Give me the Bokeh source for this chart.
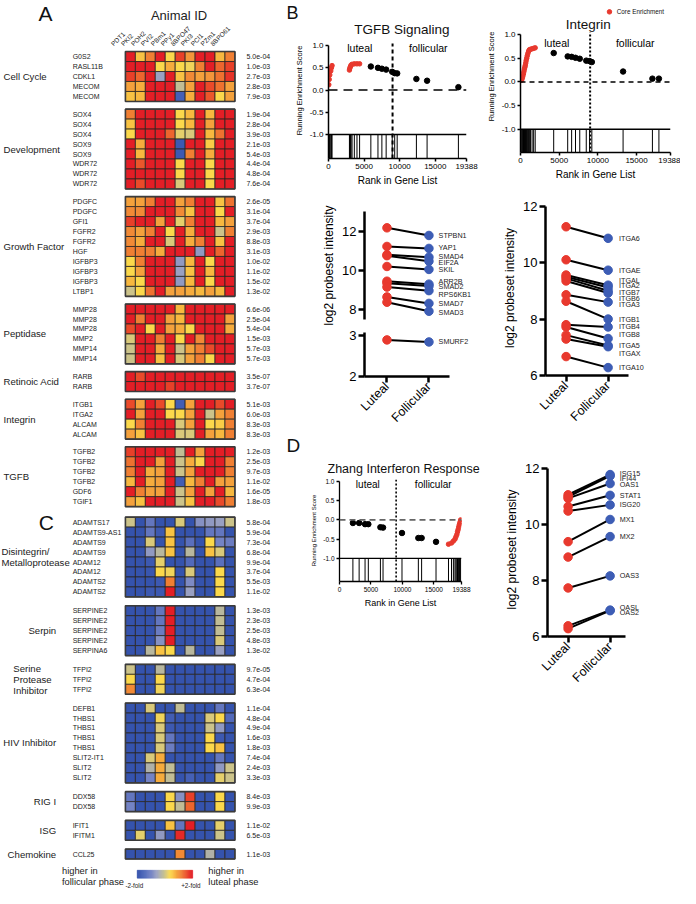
import numpy as np
from math import pi
from bokeh.plotting import figure
from bokeh.models import (Range1d, FixedTicker, PrintfTickFormatter, Span, Label, Title,
                          LinearColorMapper, ColumnDataSource, Spacer)
from bokeh.layouts import row, column
from bokeh.core.properties import value
from bokeh.transform import transform
from bokeh.embed import file_html
from bokeh.resources import INLINE

FONT = "Liberation Sans"

# ====================== DATA: heatmaps (A and C) ======================
animal_ids = ["PDT1", "PKI2", "POH2", "PVI2", "PBm1", "PPy1", "8BPO47", "PKI3", "PCI1", "PZm1", "8BPO61"]

cc_genes = ["G0S2", "RASL11B", "CDKL1", "MECOM", "MECOM"]
cc_p = ["5.0e-04", "1.0e-03", "2.7e-03", "2.8e-03", "7.9e-03"]
cc_vals = [
    [1, 0.3, 0.6, 1, 0.2, 0.85, 0.5, 1, 1, 0.35, 0.6],
    [1, 1, 1, 0.2, 0.4, 0.2, 0.15, 0.6, 1, 0.7, 0.85],
    [0.85, 0.7, 1, -0.3, 1, 0.3, 0.55, 0.45, 0.5, 0.65, 0.9],
    [0.45, 0.4, 1, 1, 1, -0.05, 0.45, 1, 0.8, 0.65, 0.45],
    [0.3, 0.35, 1, 1, 1, -0.8, 0.4, 1, 0.75, 0.2, 0.45],
]
dev_genes = ["SOX4", "SOX4", "SOX4", "SOX9", "SOX9", "WDR72", "WDR72", "WDR72"]
dev_p = ["1.9e-04", "2.8e-04", "3.9e-03", "2.1e-03", "5.4e-03", "4.4e-04", "4.8e-04", "7.6e-04"]
dev_vals = [
    [0.6, 1, 1, 1, 1, 0.2, 0.35, 1, 0.35, 1, 1],
    [0.3, 1, 1, 1, 1, 0.2, 0.35, 1, 0.45, 1, 1],
    [0.2, 1, 1, 1, 0.7, 0.1, 0.05, 1, 0.35, 0.65, 1],
    [1, 0.4, 1, 1, 1, -0.9, 1, 1, 0.25, 1, 1],
    [1, 0.35, 1, 1, 1, -0.9, 0.6, 1, 0.4, 1, 1],
    [1, 0.75, 1, 1, 1, 0.2, 1, 1, 0.2, 1, 1],
    [1, 1, 1, 1, 1, 0.2, 1, 1, 0.2, 1, 1],
    [1, 0.8, 1, 1, 1, 0.05, 1, 1, 0.2, 1, 1],
]
gf_genes = ["PDGFC", "PDGFC", "GFI1", "FGFR2", "FGFR2", "HGF", "IGFBP3", "IGFBP3", "IGFBP3", "LTBP1"]
gf_p = ["2.6e-05", "3.1e-04", "3.7e-04", "2.9e-03", "8.8e-03", "3.1e-03", "1.0e-02", "1.1e-02", "1.5e-02", "1.3e-02"]
gf_vals = [
    [0.45, 0.45, 0.6, 1, 1, 0.45, 0.6, 1, 1, 0.3, 0.65],
    [0.55, 0.55, 1, 1, 1, 0.55, 0.3, 1, 1, 0.2, 1],
    [0.85, 1, 1, 0.45, 1, 0.1, 0.6, 1, 1, 0.35, 0.45],
    [0.55, 0.45, 0.6, 1, 0.2, 1, 0.4, 1, 1, 0.0, 0.6],
    [0.55, 0.4, 1, 1, 0.05, 1, 0.4, 0.6, 1, 0.3, 1],
    [0.6, 0.6, 0.6, 0.4, 1, 1, 1, -0.35, 1, 0.7, 1],
    [0.2, 0.6, 1, 1, 1, -0.35, 0.35, 1, 0.2, 1, 1],
    [0.2, 0.45, 1, 1, 1, -0.3, 0.3, 1, 0.35, 1, 1],
    [0.35, 0.2, 1, 1, 1, -0.35, 0.35, 1, 0.2, 1, 1],
    [0.0, 0.2, 0.65, 1, 0.45, 0.45, 0.4, 0.35, 0.45, 0.35, 1],
]
pep_genes = ["MMP28", "MMP28", "MMP28", "MMP2", "MMP14", "MMP14"]
pep_p = ["6.6e-06", "2.5e-04", "5.4e-04", "1.5e-03", "5.7e-03", "5.7e-03"]
pep_vals = [
    [1, 1, 1, 1, 1, 0.35, 1, 1, 1, 1, 1],
    [1, 0.6, 1, 1, 0.45, 0.35, 1, 1, 1, 1, 0.45],
    [0.8, 1, 0.2, 1, 0.45, 0.4, 0.2, 1, 1, 1, 0.4],
    [0.05, 1, 1, 0.6, 1, 0.2, 1, 0.55, 1, 1, 1],
    [0.0, 1, 1, 0.4, 1, 0.0, 0.45, 0.6, 0.8, 1, 1],
    [0.0, 1, 1, 0.3, 1, 0.05, 0.45, 0.6, 0.2, 1, 1],
]
ra_genes = ["RARB", "RARB"]
ra_p = ["3.5e-07", "3.7e-07"]
ra_vals = [
    [1, 0.8, 1, 1, 1, 1, 1, 1, 1, 1, 1],
    [1, 1, 1, 1, 0.85, 1, 1, 1, 1, 1, 1],
]
itg_genes = ["ITGB1", "ITGA2", "ALCAM", "ALCAM"]
itg_p = ["5.1e-03", "6.0e-03", "8.3e-03", "8.3e-03"]
itg_vals = [
    [0.8, 0.45, 1, 0.8, 0.2, -0.85, 0.45, 1, 1, 0.8, 1],
    [1, 0.45, 1, 1, 0.2, 0.2, 0.45, 1, 0.0, 0.45, 0.6],
    [0.2, 0.6, 1, 1, 1, 0.05, 0.45, 1, 0.2, 0.25, 0.6],
    [0.45, 0.3, 1, 1, 1, 0.05, 0.05, 1, 0.45, 0.35, 0.6],
]
tg_genes = ["TGFB2", "TGFB2", "TGFB2", "TGFB2", "GDF6", "TGIF1"]
tg_p = ["1.2e-03", "2.5e-03", "9.7e-03", "1.1e-02", "1.6e-05", "1.8e-03"]
tg_vals = [
    [0.85, 1, 1, 1, 1, -0.05, 1, 0.45, 1, 1, 1],
    [0.65, 1, 1, 0.45, 1, 0.0, 0.4, 0.2, 1, 1, 0.6],
    [0.6, 1, 0.4, 0.45, 1, 0.0, 0.45, 1, 1, 1, 0.6],
    [0.35, 1, 0.4, 0.45, 1, -0.85, 0.35, 0.6, 1, 0.45, 0.45],
    [1, 0.6, 0.45, 0.45, 1, 0.0, 0.45, 1, 0.45, 1, 0.35],
    [0.45, 0.3, 1, 1, 1, 0.0, 0.3, 1, 1, 0.8, 0.6],
]
dis_genes = ["ADAMTS17", "ADAMTS9-AS1", "ADAMTS9", "ADAMTS9", "ADAM12", "ADAM12", "ADAMTS2", "ADAMTS2"]
dis_p = ["5.8e-04", "5.9e-04", "7.3e-04", "6.8e-04", "9.9e-04", "3.7e-04", "5.5e-03", "1.1e-02"]
dis_vals = [
    [0.0, -1, -0.6, -1, -1, 0.05, -1, -0.4, -0.35, -0.3, 0.0],
    [-1, -1, -0.6, -0.9, 0.3, -1, -1, -1, -0.6, -0.6, -1],
    [-1, -1, 0.05, -1, 0.3, -1, -0.65, -1, 0.2, -0.5, -0.55],
    [-1, -1, -0.35, -0.1, 0.3, -1, -0.1, -1, 0.3, 0.05, -1],
    [-1, -1, -0.9, 0.1, -1, -1, -0.7, -1, -1, -0.65, -1],
    [-1, -1, -0.95, 0.2, 0.15, -1, 0.05, -1, -1, 0.2, -1],
    [-1, -1, -1, -0.9, 0.6, -1, -0.45, -1, -1, 0.2, -1],
    [-1, -1, -0.9, -0.9, 1, -1, -0.3, -1, -1, 0.2, -1],
]
ser_genes = ["SERPINE2", "SERPINE2", "SERPINE2", "SERPINE2", "SERPINA6"]
ser_p = ["1.3e-03", "2.3e-03", "2.5e-03", "4.8e-03", "1.3e-02"]
ser_vals = [
    [-1, -1, -1, -0.6, 1, -1, -1, -1, -1, -0.1, -1],
    [-1, -1, -1, -0.6, 1, -1, -1, -1, -1, -0.05, -1],
    [-1, -1, -1, -0.55, 1, -1, -1, -1, -1, -0.05, -1],
    [-1, -1, -1, -0.4, 1, -1, -1, -1, -1, 0.05, -1],
    [-1, -1, -0.1, 0.3, 0.2, -1, -0.1, -1, -1, -0.3, -1],
]
spi_genes = ["TFPI2", "TFPI2", "TFPI2"]
spi_p = ["9.7e-05", "4.7e-04", "6.3e-04"]
spi_vals = [
    [0.0, -1, -1, -0.1, -1, -1, -1, -1, -1, -1, -1],
    [0.2, -1, -1, 0.2, -1, -1, -1, -1, -1, -1, -1],
    [0.55, -1, -1, 0.15, -1, -1, -1, -1, -1, -1, -1],
]
hiv_genes = ["DEFB1", "THBS1", "THBS1", "THBS1", "THBS1", "SLIT2-IT1", "SLIT2", "SLIT2"]
hiv_p = ["1.1e-04", "4.8e-04", "4.9e-04", "1.6e-03", "1.8e-03", "7.4e-04", "2.4e-03", "3.3e-03"]
hiv_vals = [
    [-1, -1, 0.05, -1, -1, -0.05, -1, -1, -1, -0.6, -1],
    [-1, -1, -1, 0.15, -0.85, -1, -1, -1, 0.05, 0.2, -0.7],
    [-1, -1, -1, 0.05, -0.9, -1, -1, -1, 0.0, -0.35, -1],
    [-1, -1, -1, 0.05, -0.6, -1, -1, -1, 0.2, -0.9, -1],
    [-1, -1, -1, 0.05, -0.55, -1, -1, -1, 0.2, 0.3, -1],
    [-1, -1, 0.05, 0.4, -1, -1, -1, -1, -1, -0.6, -1],
    [-1, -1, -0.15, 0.4, -0.05, -1, -1, -1, -1, -0.35, 0.0],
    [-1, -1, -0.5, 0.4, -0.05, -1, -0.8, -1, -1, 0.1, 0.0],
]
rig_genes = ["DDX58", "DDX58"]
rig_p = ["8.4e-03", "9.9e-03"]
rig_vals = [
    [-0.6, -1, -1, -1, 0.2, -0.4, 0.85, -1, -1, 0.2, -1],
    [-0.5, -1, -1, -1, 0.2, -0.05, 0.7, -1, -1, 0.2, -1],
]
isg_genes = ["IFIT1", "IFITM1"]
isg_p = ["1.1e-02", "6.5e-03"]
isg_vals = [
    [-1, -1, -1, -1, 0.3, -0.6, 1, -1, -1, 0.1, -1],
    [-1, 0.1, -1, -0.35, -1, 0.95, -1, -1, -1, 0.0, -1],
]
chem_genes = ["CCL25"]
chem_p = ["1.1e-03"]
chem_vals = [
    [-1, -1, -1, -1, -1, 0.55, -1, -1, -0.15, -1, -1],
]

groups_A = [
    (["Cell Cycle"], cc_genes, cc_p, cc_vals),
    (["Development"], dev_genes, dev_p, dev_vals),
    (["Growth Factor"], gf_genes, gf_p, gf_vals),
    (["Peptidase"], pep_genes, pep_p, pep_vals),
    (["Retinoic Acid"], ra_genes, ra_p, ra_vals),
    (["Integrin"], itg_genes, itg_p, itg_vals),
    (["TGFB"], tg_genes, tg_p, tg_vals),
]
groups_C = [
    (["Disintegrin/", "Metalloprotease"], dis_genes, dis_p, dis_vals),
    (["Serpin"], ser_genes, ser_p, ser_vals),
    (["Serine", "Protease", "Inhibitor"], spi_genes, spi_p, spi_vals),
    (["HIV Inhibitor"], hiv_genes, hiv_p, hiv_vals),
    (["RIG I"], rig_genes, rig_p, rig_vals),
    (["ISG"], isg_genes, isg_p, isg_vals),
    (["Chemokine"], chem_genes, chem_p, chem_vals),
]

# ====================== DATA: GSEA running enrichment ======================
n_genes = 19388
phase_split = 9000
tgfb_rank = [40, 100, 180, 320, 410, 500, 2940, 2990, 3080, 3170, 3310, 3630, 4000, 4370,
             5950, 6950, 7500, 8100, 8950, 9300, 9650, 12350, 13850, 18250]
tgfb_es = [0.12, 0.24, 0.34, 0.43, 0.5, 0.55, 0.45, 0.49, 0.53, 0.56, 0.58, 0.59, 0.59, 0.59,
           0.53, 0.5, 0.48, 0.46, 0.41, 0.38, 0.375, 0.25, 0.21, 0.065]
tgfb_core = [1] * 14 + [0] * 10

integ_rank = [150, 230, 300, 380, 440, 500, 560, 620, 680, 730, 800, 870, 950, 1050, 1150, 1300,
              1500, 1700, 1900, 4290, 6100, 6610, 7110, 7660, 8500, 8925, 9220, 13260, 17050, 17890]
integ_es = [0.04, 0.08, 0.12, 0.17, 0.22, 0.27, 0.31, 0.35, 0.4, 0.45, 0.5, 0.55, 0.6, 0.65, 0.68,
            0.69, 0.7, 0.71, 0.72, 0.61, 0.54, 0.53, 0.51, 0.49, 0.45, 0.44, 0.42, 0.22, 0.07, 0.07]
integ_core = [1] * 19 + [0] * 11

zhang_rank = [2130, 3120, 4060, 4580, 6500, 6920, 9930, 12530, 13050, 15340,
              17320, 17800, 18100, 18350, 18500, 18650, 18750, 18850, 18950, 19050, 19150, 19250]
zhang_es = [-0.08, -0.08, -0.11, -0.11, -0.19, -0.2, -0.34, -0.47, -0.47, -0.57,
            -0.63, -0.6, -0.55, -0.5, -0.44, -0.38, -0.31, -0.25, -0.18, -0.12, -0.06, 0.0]
zhang_core = [0] * 10 + [1] * 12

# ====================== DATA: log2 probeset intensity ======================
phases = ["Luteal", "Follicular"]
tgfb_genes = ["STPBN1", "YAP1", "SMAD4", "EIF2A", "SKIL", "ARR2B", "SMAD2", "RPS6KB1", "SMAD7", "SMAD3"]
tgfb_lut = [12.17, 11.22, 10.8, 10.75, 10.2, 9.45, 9.35, 9.15, 8.65, 8.38]
tgfb_fol = [11.78, 11.12, 10.67, 10.47, 10.05, 9.3, 9.2, 8.97, 8.32, 7.92]
tgfb_lab = [11.78, 11.17, 10.72, 10.38, 10.03, 9.45, 9.2, 8.78, 8.32, 7.88]
tgfb_low_genes = ["SMURF2"]
tgfb_low_lut = [2.89]
tgfb_low_fol = [2.84]

integ_genes = ["ITGA6", "ITGAE", "ITGAL", "ITGA2", "ITGB7", "ITGB6", "ITGA3", "ITGB1", "ITGB4",
               "ITGB8", "ITGA5", "ITGAX", "ITGA10"]
integ_lut = [11.27, 10.1, 9.56, 9.5, 9.44, 9.35, 8.86, 8.63, 7.8, 7.72, 7.43, 7.29, 6.67]
integ_fol = [10.86, 9.73, 9.2, 9.12, 9.0, 8.92, 8.6, 8.0, 7.72, 7.31, 7.06, 7.02, 6.28]
integ_lab = [10.86, 9.73, 9.35, 9.19, 8.95, 8.74, 8.53, 7.99, 7.73, 7.44, 7.06, 6.77, 6.28]

ifn_genes = ["ISG15", "IFI44", "OAS1", "STAT1", "ISG20", "MX1", "MX2", "OAS3", "OASL", "OAS2"]
ifn_lut = [11.05, 10.98, 10.92, 10.63, 10.47, 9.38, 8.83, 7.73, 6.38, 6.28]
ifn_fol = [11.77, 11.72, 11.45, 11.03, 10.69, 10.17, 9.56, 8.16, 6.94, 6.92]
ifn_lab = [11.8, 11.62, 11.4, 11.03, 10.69, 10.17, 9.58, 8.16, 7.02, 6.84]

# ====================== colour scale ======================
anchors = [(-1.0, "#3553ad"), (-0.75, "#4a63b8"), (-0.5, "#7483c4"), (-0.3, "#99a0c2"),
           (-0.1, "#b8b79e"), (0.0, "#cbc38b"), (0.1, "#e6cf6a"), (0.2, "#fbd84b"),
           (0.35, "#f7b83f"), (0.5, "#f3963a"), (0.65, "#ee7330"), (0.8, "#ea4b2a"), (1.0, "#e31e26")]


def hex2rgb(h):
    return np.array([int(h[i:i + 2], 16) for i in (1, 3, 5)], dtype=float)


def build_palette(anc, n=256):
    pos = np.array([a[0] for a in anc])
    cols = np.array([hex2rgb(a[1]) for a in anc])
    out = []
    for t in np.linspace(pos[0], pos[-1], n):
        rgb = [np.interp(t, pos, cols[:, k]) for k in range(3)]
        out.append("#%02x%02x%02x" % tuple(int(round(c)) for c in rgb))
    return out


palette = build_palette(anchors)
mapper = LinearColorMapper(palette=palette, low=-1, high=1)

# ====================== heatmap figure ======================
GAP_A, GAP_AC, GAP_C = 0.77, 1.05, 0.88
n_anim = len(animal_ids)
cx, cy, cv = [], [], []
gx_y, gx_t, px_t = [], [], []
box_top, box_bot = [], []
lab_rows = []
y = 0.0
for panel, groups, gap in (("A", groups_A, GAP_A), ("C", groups_C, GAP_C)):
    for lines, genes, pv, vals in groups:
        top = y
        for r, (g, p_, rowv) in enumerate(zip(genes, pv, vals)):
            for c, v in enumerate(rowv):
                cx.append(c + 0.5)
                cy.append(top + r + 0.5)
                cv.append(v)
            gx_y.append(top + r + 0.5)
            gx_t.append(g)
            px_t.append(p_)
        box_top.append(top)
        box_bot.append(top + len(genes))
        lab_rows.append((panel, lines, top + len(genes) / 2.0))
        y = top + len(genes) + gap
    y = y - gap + GAP_AC

heat = figure(width=283, height=888, x_range=Range1d(-12.55, 15.88), y_range=Range1d(83.9, -5.12),
              output_backend="svg", toolbar_location=None, x_axis_location=None, y_axis_location=None,
              min_border=0, outline_line_color=None, frame_align=False)
heat.grid.visible = False
src = ColumnDataSource(dict(x=cx, y=cy, v=cv))
heat.rect(x="x", y="y", width=1, height=1, source=src, fill_color=transform("v", mapper),
          line_color="#2a2622", line_width=0.8)
heat.quad(left=[0] * len(box_top), right=[n_anim] * len(box_top), top=box_top, bottom=box_bot,
          fill_color=None, line_color="#3b3b3b", line_width=1.6)
heat.text(x=[-5.3] * len(gx_t), y=gx_y, text=gx_t, text_font=value(FONT), text_font_size="7px",
          text_baseline="middle", text_align="left", text_color="#222222")
heat.text(x=[12.16] * len(px_t), y=gx_y, text=px_t, text_font=value(FONT), text_font_size="7px",
          text_baseline="middle", text_align="left", text_color="#222222")

c_anchor = [(-12.45, "left"), (-6.96, "right"), (-11.27, "left"), (-6.96, "right"),
            (-6.96, "right"), (-6.96, "right"), (-6.96, "right")]
glx, gly, glt, gla = [], [], [], []
ci = 0
for panel, lines, centre in lab_rows:
    if panel == "A":
        ax_, al = -12.25, "left"
    else:
        ax_, al = c_anchor[ci]
        ci += 1
    n = len(lines)
    for k, ln in enumerate(lines):
        glx.append(ax_)
        gly.append(centre + (k - (n - 1) / 2.0) * 1.1)
        glt.append(ln)
        gla.append(al)
heat.text(x=glx, y=gly, text=glt, text_align=gla, text_baseline="middle", text_font=value(FONT),
          text_font_size="9.6px", text_color="#222222")

heat.text(x=[i - 1.35 for i in range(n_anim)], y=[-0.69] * n_anim, text=animal_ids, angle=pi / 4,
          text_align="left", text_baseline="middle", text_font=value(FONT), text_font_size="6.5px",
          text_color="#222222")
heat.text(x=[5.39], y=[-3.65], text=["Animal ID"], text_align="center", text_baseline="middle",
          text_font=value(FONT), text_font_size="13px", text_color="#222222")
heat.text(x=[-8.04, -7.94], y=[-3.84, 47.2], text=["A", "C"], text_align="center", text_baseline="middle",
          text_font=value(FONT), text_font_size="21px", text_color="#111111")

cb_n = 60
edges = np.linspace(1.18, 6.76, cb_n + 1)
cb_cols = [palette[int(round(i / (cb_n - 1) * (len(palette) - 1)))] for i in range(cb_n)]
heat.quad(left=edges[:-1], right=edges[1:], top=[82.07] * cb_n, bottom=[82.86] * cb_n,
          fill_color=cb_cols, line_color=cb_cols, line_width=0.5)
heat.text(x=[0.0, 5.6], y=[83.55, 83.55], text=["-2-fold", "+2-fold"], text_font=value(FONT),
          text_font_size="6.3px", text_baseline="middle", text_align="left", text_color="#222222")
heat.text(x=[-6.37, -6.37, 8.33, 8.33], y=[82.1, 83.25, 82.1, 83.25],
          text=["higher in", "follicular phase", "higher in", "luteal phase"], text_font=value(FONT),
          text_font_size="9.3px", text_baseline="middle", text_align="left", text_color="#222222")


# ====================== helpers ======================
def style_axis(ax, lw, tick, fs, lab_fs=None):
    ax.axis_line_width = lw
    ax.axis_line_color = "black"
    ax.major_tick_line_width = lw
    ax.major_tick_line_color = "black"
    ax.major_tick_out = tick
    ax.major_tick_in = 0
    ax.minor_tick_line_color = None
    ax.major_label_text_font = FONT
    ax.major_label_text_font_size = fs
    ax.major_label_text_color = "black"
    ax.major_label_standoff = 2
    ax.axis_label_text_font = FONT
    ax.axis_label_text_font_style = "normal"
    ax.axis_label_text_color = "black"
    if lab_fs:
        ax.axis_label_text_font_size = lab_fs
    ax.axis_label_standoff = 3


def add_label(p, x, y, text, fs, align="center"):
    p.add_layout(Label(x=x, y=y, text=text, text_font=FONT, text_font_size=fs, text_align=align,
                       text_baseline="middle", text_color="black"))


def add_title(p, text, offset, fs, standoff=0, lh=1.0):
    p.add_layout(Title(text=text, align="left", offset=offset, text_font=FONT, text_font_size=fs,
                       text_font_style="normal", text_color="#111111", standoff=standoff,
                       text_line_height=lh), "above")


def gsea_fig(rank, es, core, w, h, ml, mr, mt, mb, ylo, ytop, zdash, zcol, vdash, vw,
             tick_fs, xlab_fs, ylab_fs, lw, red_size, blk_size):
    p = figure(width=w, height=h, x_range=Range1d(0, n_genes), y_range=Range1d(ylo, ytop),
               output_backend="svg", toolbar_location=None, min_border_left=ml, min_border_right=mr,
               min_border_top=mt, min_border_bottom=mb, outline_line_color=None, frame_align=False)
    p.grid.visible = False
    n = len(rank)
    p.segment(x0=rank, y0=[-1.0] * n, x1=rank, y1=[ylo] * n, line_color="black", line_width=1)
    p.add_layout(Span(location=-1.0, dimension="width", line_color="black", line_width=lw))
    p.add_layout(Span(location=0.0, dimension="width", line_color=zcol, line_width=1.6, line_dash=zdash))
    p.segment(x0=[phase_split], y0=[ylo], x1=[phase_split], y1=[1.05], line_color="black", line_width=vw,
              line_dash=vdash)
    cr = [r for r, c in zip(rank, core) if c]
    ce = [e for e, c in zip(es, core) if c]
    br = [r for r, c in zip(rank, core) if not c]
    be = [e for e, c in zip(es, core) if not c]
    p.scatter(br, be, size=blk_size, color="black")
    p.scatter(cr, ce, size=red_size, color="#e8392e")
    p.xaxis.ticker = FixedTicker(ticks=[0, 5000, 10000, 15000, n_genes])
    p.xaxis.formatter = PrintfTickFormatter(format="%d")
    p.xaxis.axis_label = "Rank in Gene List"
    p.yaxis.ticker = FixedTicker(ticks=[-1.0, -0.5, 0.0, 0.5, 1.0])
    p.yaxis.formatter = PrintfTickFormatter(format="%.1f")
    p.yaxis.bounds = (ylo, 1.0)
    p.yaxis.axis_label = "Running Enrichment Score"
    style_axis(p.xaxis[0], lw, 3, tick_fs, xlab_fs)
    style_axis(p.yaxis[0], lw, 3, tick_fs, ylab_fs)
    return p


def dot_fig(w, h, ml, mr, mt, mb, xr, yr, ybounds, yticks, xaxis=True, ylabel=None, xbounds=None):
    p = figure(width=w, height=h, x_range=Range1d(*xr), y_range=Range1d(*yr), output_backend="svg",
               toolbar_location=None, min_border_left=ml, min_border_right=mr, min_border_top=mt,
               min_border_bottom=mb, outline_line_color=None, frame_align=False,
               x_axis_location="below" if xaxis else None)
    p.grid.visible = False
    p.yaxis.ticker = FixedTicker(ticks=yticks)
    p.yaxis.bounds = ybounds
    style_axis(p.yaxis[0], 2.5, 6, "13px", "12px")
    if ylabel:
        p.yaxis.axis_label = ylabel
    if xaxis:
        p.xaxis.ticker = FixedTicker(ticks=[0, 1])
        p.xaxis.major_label_overrides = {0: phases[0], 1: phases[1]}
        p.xaxis.major_label_orientation = pi / 4
        p.xaxis.bounds = xbounds
        style_axis(p.xaxis[0], 2.5, 6, "12.5px")
    return p


def pairs(p, genes, lut, fol, lab, lab_x):
    n = len(genes)
    p.segment(x0=[0] * n, y0=lut, x1=[1] * n, y1=fol, line_color="black", line_width=2)
    p.scatter([0] * n, lut, size=8.5, color="#e8392e")
    p.scatter([1] * n, fol, size=8.5, color="#3d5db5")
    p.text(x=[lab_x] * n, y=lab, text=genes, text_font=value(FONT), text_font_size="7.2px",
           text_baseline="middle", text_align="left", text_color="#222222")


# ====================== panel B: GSEA ======================
g1 = gsea_fig(tgfb_rank, tgfb_es, tgfb_core, 198, 196, 45, 15, 14, 38, -1.54, 1.52, "9 6", "black", "4 3", 2,
              "8px", "10px", "7.5px", 1.5, 4.5, 5.5)
add_title(g1, "B", -42, "18px", lh=0.8)
g1.text(x=[10313], y=[1.365], text=["TGFB Signaling"], text_font=value(FONT), text_font_size="13.5px",
        text_align="center", text_baseline="middle", text_color="#111111")
add_label(g1, 4400, 0.94, "luteal", "10.5px")
add_label(g1, 14025, 0.94, "follicular", "10.5px")

g2 = gsea_fig(integ_rank, integ_es, integ_core, 199, 196, 39, 10, 0, 44, -1.49, 1.72, "5 4", "black", "2 2", 2,
              "8px", "10px", "7.5px", 1.5, 4.5, 5.5)
g2.text(x=[8744], y=[1.22], text=["Integrin"], text_font=value(FONT), text_font_size="13.5px",
        text_align="center", text_baseline="middle", text_color="#111111")
g2.scatter([11500], [1.48], size=4.5, color="#e8392e")
g2.text(x=[12450], y=[1.48], text=["Core Enrichment"], text_font=value(FONT), text_font_size="6.3px",
        text_align="left", text_baseline="middle", text_color="#111111")
add_label(g2, 4690, 0.82, "luteal", "10.5px")
add_label(g2, 14826, 0.82, "follicular", "10.5px")

# ====================== panel B: probeset intensities ======================
d1u = dot_fig(198, 129, 81, 3, 15, 6, (-0.535, 2.18), (7.5, 13.0), (7.5, 13.0), [8, 10, 12], xaxis=False,
              ylabel="log2 probeset intensity")
pairs(d1u, tgfb_genes, tgfb_lut, tgfb_fol, tgfb_lab, 1.23)
d1l = dot_fig(198, 107, 81, 3, 7, 53, (-0.535, 2.18), (2.0, 3.07), (2.0, 3.07), [2, 3], xaxis=True,
              xbounds=(-0.535, 1.5))
pairs(d1l, tgfb_low_genes, tgfb_low_lut, tgfb_low_fol, tgfb_low_fol, 1.23)

d2 = dot_fig(199, 236, 64, 6, 4, 57, (-0.49, 2.58), (6.0, 12.2), (6.0, 12.0), [6, 8, 10, 12], xaxis=True,
             ylabel="log2 probeset intensity", xbounds=(-0.49, 1.49))
pairs(d2, integ_genes, integ_lut, integ_fol, integ_lab, 1.26)

# ====================== panel D ======================
g3 = gsea_fig(zhang_rank, zhang_es, zhang_core, 205, 196, 56, 27, 44, 47, -1.6, 1.05, "6 4", "#666666", "2 2", 1.6,
              "6.5px", "9px", "6px", 1.3, 4.5, 5.5)
add_title(g3, "Zhang Interferon Response", -12, "12.5px", standoff=8)
add_title(g3, "D", -53, "19px", lh=0.85)
add_label(g3, 4500, 0.91, "luteal", "10px")
add_label(g3, 14890, 0.91, "follicular", "10px")

d3 = dot_fig(192, 285, 59, 4, 30, 81, (-0.49, 2.58), (6.0, 12.2), (6.0, 12.0), [6, 8, 10, 12], xaxis=True,
             ylabel="log2 probeset intensity", xbounds=(-0.49, 1.37))
pairs(d3, ifn_genes, ifn_lut, ifn_fol, ifn_lab, 1.23)

right = column(
    row(g1, g2),
    row(column(d1u, d1l), d2),
    row(column(g3, Spacer(width=205, height=260)), column(d3, Spacer(width=192, height=171))),
)
layout = row(heat, right)

open("out.html", "w").write(file_html(layout, INLINE))
